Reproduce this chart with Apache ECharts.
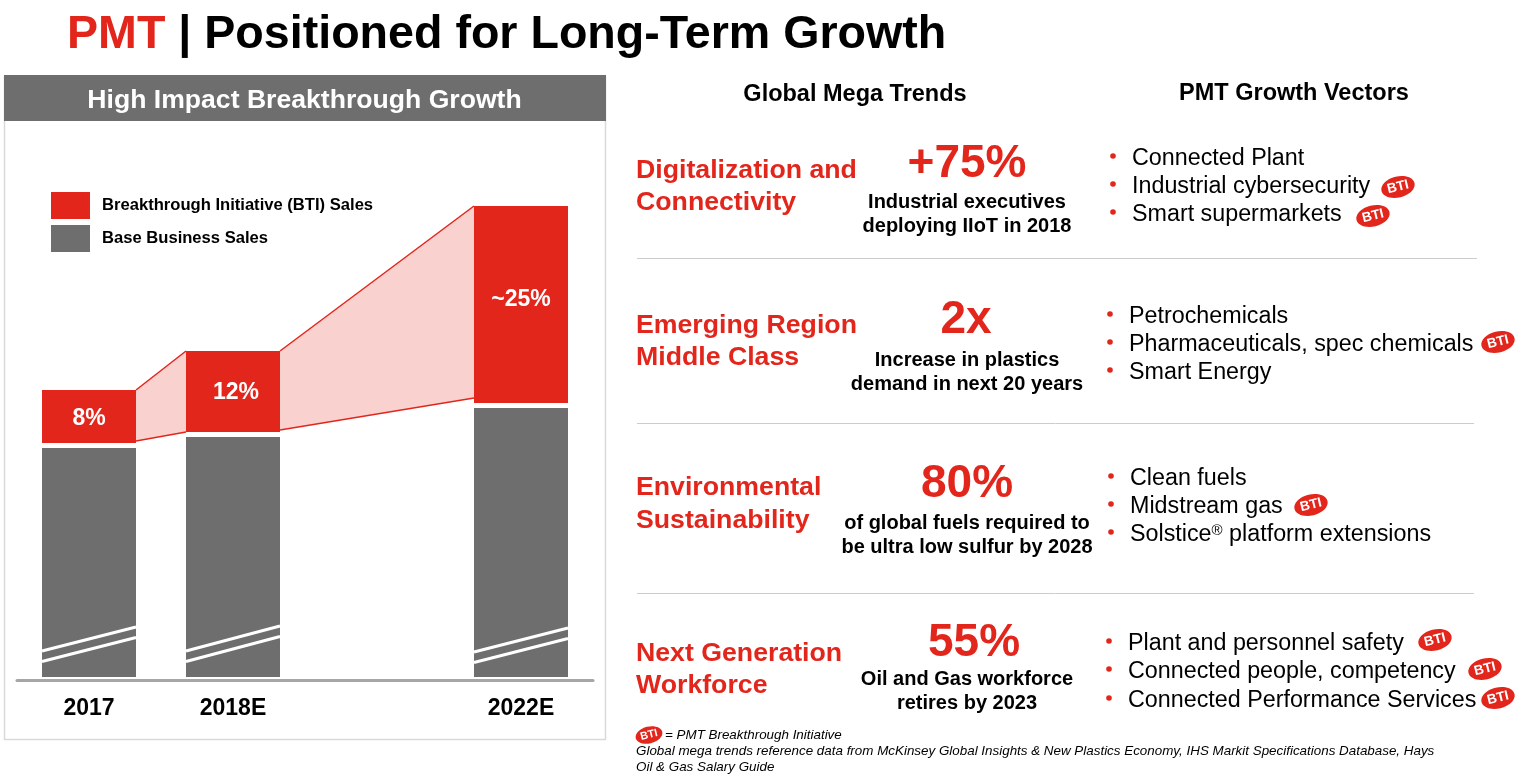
<!DOCTYPE html>
<html><head><meta charset="utf-8">
<style>html,body{margin:0;padding:0;background:#fff}#c{width:1528px;height:776px}</style>
<script src="https://cdn.jsdelivr.net/npm/echarts@6/dist/echarts.min.js"></script>
</head><body><div id="c"></div>
<script>
const years = ['2017', '2018E', '', '2022E'];
const baseSales = [229, 240, null, 269];
const gapValues = [5, 5, null, 5];
const btiSales = [53, 81, null, 197];
const btiLabels = ['8%', '12%', '', '~25%'];
const ribbonFrom = [0, 1];
const ribbonTo = [1, 3];
const ribbonBottomStart = [236, 247];
const ribbonBottomEnd = [245, 279];
const breakLeft = [26, 26, 25];
const breakRight = [50, 51, 49];
const breakBars = [0, 1, 3];

const trendNames = [['Digitalization and', 'Connectivity'], ['Emerging Region', 'Middle Class'], ['Environmental', 'Sustainability'], ['Next Generation', 'Workforce']];
const trendStats = ['+75%', '2x', '80%', '55%'];
const trendNotes = [['Industrial executives', 'deploying IIoT in 2018'], ['Increase in plastics', 'demand in next 20 years'], ['of global fuels required to', 'be ultra low sulfur by 2028'], ['Oil and Gas workforce', 'retires by 2023']];
const vectors = [
  ['Connected Plant', 'Industrial cybersecurity', 'Smart supermarkets'],
  ['Petrochemicals', 'Pharmaceuticals, spec chemicals', 'Smart Energy'],
  ['Clean fuels', 'Midstream gas', 'Solstice{sup|®} platform extensions'],
  ['Plant and personnel safety', 'Connected people, competency', 'Connected Performance Services']
];
const footnotes = ['= PMT Breakthrough Initiative', 'Global mega trends reference data from McKinsey Global Insights & New Plastics Economy, IHS Markit Specifications Database, Hays', 'Oil & Gas Salary Guide'];

const RED = '#E2261C', GREY = '#6E6E6E', FONT = '"Liberation Sans", Arial, sans-serif';
const BAR_W = 94;
const labelOffsets = [[0, 2], [3, 1], [0, 0], [0, -5]];

const g = [];
function text(x, y, s, size, weight, color, align, extra) {
  g.push({type: 'text', x, y, z: 10, style: Object.assign({text: s, fontFamily: FONT, fontSize: size, fontWeight: weight, fill: color, align: align || 'left', verticalAlign: 'middle'}, extra || {})});
}
function badge(x, y, scale) {
  const s = scale || 1;
  g.push({type: 'group', x, y, rotation: 0.24, z: 10, children: [
    {type: 'ellipse', shape: {cx: 0, cy: 0, rx: 17 * s, ry: 10.5 * s}, style: {fill: RED}, z: 10},
    {type: 'text', x: 0, y: 0, z: 11, style: {text: 'BTI', fontFamily: FONT, fontSize: 13.5 * s, fontWeight: 'bold', fill: '#fff', align: 'center', verticalAlign: 'middle'}}
  ]});
}
// panel
g.push({type: 'rect', z: -2, shape: {x: 4.5, y: 76.5, width: 601, height: 663}, style: {fill: '#fff', stroke: '#D9D9D9', lineWidth: 1.5}});
g.push({type: 'rect', z: -1, shape: {x: 4, y: 75, width: 602, height: 46}, style: {fill: GREY}});
text(304.5, 101, 'High Impact Breakthrough Growth', 26.6, 'bold', '#fff', 'center');
// title
g.push({type: 'text', x: 67, y: 35, z: 10, style: {text: '{r|PMT}{k| | Positioned for Long-Term Growth}', verticalAlign: 'middle', rich: {
  r: {fontFamily: FONT, fontSize: 46.6, fontWeight: 'bold', fill: RED},
  k: {fontFamily: FONT, fontSize: 46.6, fontWeight: 'bold', fill: '#000'}
}}});
// headers
text(855, 94.5, 'Global Mega Trends', 23.5, 'bold', '#000', 'center');
text(1294, 93.5, 'PMT Growth Vectors', 23.5, 'bold', '#000', 'center');
// rows
const nameY = [[170.5, 202.5], [325.5, 357.5], [487.5, 520.5], [653.5, 685.5]];
const statPos = [[967, 164], [966, 320], [967, 484], [974, 643]];
const noteY = [[202, 226], [360, 384], [523, 547], [679, 703]];
const vecX = [1132, 1129, 1130, 1128];
const vecY = [[159, 187, 215], [317, 345, 373], [479, 507, 535], [644, 672, 701]];
trendNames.forEach((n, i) => {
  n.forEach((t, j) => text(636, nameY[i][j], t, 26.7, 'bold', RED));
  text(statPos[i][0], statPos[i][1], trendStats[i], 46, 'bold', RED, 'center');
  trendNotes[i].forEach((t, j) => text(967, noteY[i][j], t, 20, 'bold', '#000', 'center'));
  vectors[i].forEach((t, j) => {
    g.push({type: 'circle', z: 10, shape: {cx: vecX[i] - 19, cy: vecY[i][j] - 3, r: 2.8}, style: {fill: RED}});
    text(vecX[i], vecY[i][j], t, 23.3, 'normal', '#000', 'left', {rich: {sup: {fontFamily: FONT, fontSize: 15, fill: '#000', verticalAlign: 'top', padding: [0, 0, 8, 0]}}});
  });
});
[[1398, 187], [1373, 216], [1498, 342], [1311, 505], [1435, 640], [1485, 669], [1498, 698]].forEach(p => badge(p[0], p[1]));
[[258, 1477], [423, 1474], [593, 1474]].forEach(l => g.push({type: 'line', z: 1, shape: {x1: 637, y1: l[0] + .5, x2: l[1], y2: l[0] + .5}, style: {stroke: '#CCCCCC', lineWidth: 1}}));
// footer
badge(649, 735, 0.8);
text(665, 735, footnotes[0], 13.4, 'normal', '#000', 'left', {fontStyle: 'italic'});
text(636, 751, footnotes[1], 13.4, 'normal', '#000', 'left', {fontStyle: 'italic'});
text(636, 767, footnotes[2], 13.4, 'normal', '#000', 'left', {fontStyle: 'italic'});

const chart = echarts.init(document.getElementById('c'), null, {renderer: 'canvas'});
chart.setOption({
  animation: false,
  backgroundColor: '#fff',
  graphic: {elements: g},
  legend: {
    data: ['Breakthrough Initiative (BTI) Sales', 'Base Business Sales'],
    orient: 'vertical', left: 51, top: 192, padding: 0, itemWidth: 39, itemHeight: 27, itemGap: 6, selectedMode: false,
    icon: 'rect', textStyle: {fontFamily: FONT, fontSize: 16.6, fontWeight: 'bold', color: '#000', padding: [5, 0, 0, 7]}
  },
  grid: {left: 17, width: 576, top: 127, height: 550},
  xAxis: {
    type: 'category', data: years, position: 'bottom', offset: 3,
    axisLine: {onZero: false, lineStyle: {color: '#A6A6A6', width: 3}}, axisTick: {show: false},
    axisLabel: {interval: 0, margin: 17, fontFamily: FONT, fontSize: 23, fontWeight: 'bold', color: '#000'}
  },
  yAxis: {type: 'value', min: 0, max: 550, show: false},
  series: [
    {
      type: 'custom', name: 'ribbon', silent: true, z: 1, clip: false,
      data: ribbonFrom.map((a, i) => [a, ribbonTo[i], baseSales[a] + gapValues[a] + btiSales[a], ribbonBottomStart[i], baseSales[ribbonTo[i]] + gapValues[ribbonTo[i]] + btiSales[ribbonTo[i]], ribbonBottomEnd[i]]),
      encode: {x: 0, y: 2},
      renderItem(params, api) {
        const a = api.coord([api.value(0), api.value(2)]), b = api.coord([api.value(0), api.value(3)]);
        const c = api.coord([api.value(1), api.value(4)]), d = api.coord([api.value(1), api.value(5)]);
        const x1 = a[0] + BAR_W / 2, x2 = c[0] - BAR_W / 2;
        return {type: 'group', children: [
          {type: 'polygon', shape: {points: [[x1, a[1]], [x2, c[1]], [x2, d[1]], [x1, b[1]]]}, style: {fill: '#F9D2D0'}},
          {type: 'line', shape: {x1, y1: a[1], x2, y2: c[1]}, style: {stroke: RED, lineWidth: 1.5}},
          {type: 'line', shape: {x1, y1: b[1], x2, y2: d[1]}, style: {stroke: RED, lineWidth: 1.5}}
        ]};
      }
    },
    {type: 'bar', name: 'Base Business Sales', stack: 's', barWidth: BAR_W, data: baseSales, itemStyle: {color: GREY}, z: 2},
    {type: 'bar', name: 'gap', stack: 's', barWidth: BAR_W, data: gapValues, itemStyle: {color: 'rgba(0,0,0,0)'}, silent: true, z: 2},
    {
      type: 'bar', name: 'Breakthrough Initiative (BTI) Sales', stack: 's', barWidth: BAR_W, z: 2,
      data: btiSales.map((v, i) => ({value: v, label: {offset: labelOffsets[i]}})),
      itemStyle: {color: RED},
      label: {show: true, position: 'inside', formatter: p => btiLabels[p.dataIndex], fontFamily: FONT, fontSize: 23, fontWeight: 'bold', color: '#fff'}
    },
    {
      type: 'custom', name: 'axis break', silent: true, z: 3,
      data: breakBars.map((b, i) => [b, breakLeft[i], breakRight[i]]),
      encode: {x: 0, y: 1},
      renderItem(params, api) {
        const out = [];
        [0, 10.5].forEach(d => {
          const l = api.coord([api.value(0), api.value(1) - d]), r = api.coord([api.value(0), api.value(2) - d]);
          out.push({type: 'line', shape: {x1: l[0] - BAR_W / 2, y1: l[1], x2: r[0] + BAR_W / 2, y2: r[1]}, style: {stroke: '#fff', lineWidth: 3}});
        });
        return {type: 'group', children: out};
      }
    }
  ]
});
</script></body></html>
